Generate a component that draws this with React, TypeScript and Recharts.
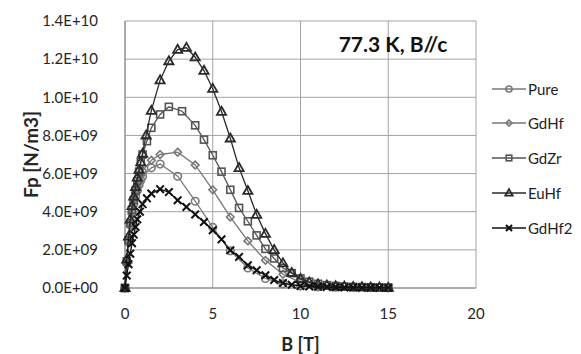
import React from 'react';
import { ScatterChart, Scatter, XAxis, YAxis, CartesianGrid } from 'recharts';

const FONT = 'Lato, "Open Sans", sans-serif';

// B [T] and Fp in units of 1E+09 N/m3
const pureB = [0, 0.1, 0.2, 0.3, 0.4, 0.5, 0.6, 0.7, 0.8, 0.9, 1.0, 1.5, 2, 3, 4, 5, 6, 7, 8, 9, 10, 11, 12, 13, 14, 15];
const pureFp = [0, 1.3, 2.4, 3.3, 3.9, 4.4, 4.8, 5.1, 5.4, 5.65, 5.85, 6.3, 6.5, 5.86, 4.55, 3.18, 1.95, 1.05, 0.5, 0.22, 0.1, 0.06, 0.04, 0.03, 0.02, 0.01];

const gdhfB = [0, 0.1, 0.2, 0.3, 0.4, 0.5, 0.6, 0.7, 0.8, 0.9, 1.0, 1.5, 2, 3, 4, 5, 6, 7, 8, 9, 10, 11, 12, 13, 14, 15];
const gdhfFp = [0, 1.4, 2.5, 3.4, 4.0, 4.6, 5.0, 5.3, 5.6, 5.9, 6.15, 6.7, 7.0, 7.12, 6.45, 5.15, 3.72, 2.47, 1.45, 0.72, 0.3, 0.13, 0.07, 0.04, 0.03, 0.02];

const gdzrB = [0, 0.1, 0.2, 0.3, 0.4, 0.5, 0.6, 0.7, 0.8, 0.9, 1.0, 1.25, 1.5, 2, 2.5, 3.25, 4, 4.5, 5, 5.5, 6, 6.5, 7, 7.5, 8, 8.5, 9, 9.5, 10, 10.5, 11, 11.5, 12, 12.5, 13, 13.5, 14, 14.5, 15];
const gdzrFp = [0, 1.4, 2.5, 3.4, 4.1, 4.6, 5.1, 5.6, 6.1, 6.6, 7.0, 7.7, 8.4, 9.1, 9.5, 9.27, 8.53, 7.78, 6.96, 6.1, 5.15, 4.2, 3.5, 2.76, 2.05, 1.55, 1.05, 0.78, 0.5, 0.33, 0.22, 0.15, 0.11, 0.08, 0.06, 0.05, 0.04, 0.03, 0.02];

const euhfB = [0, 0.1, 0.2, 0.3, 0.4, 0.5, 0.6, 0.7, 0.8, 0.9, 1.0, 1.2, 1.5, 2, 2.5, 3, 3.5, 4, 4.5, 5, 5.5, 6, 6.5, 7, 7.5, 8, 8.5, 9, 9.5, 10, 10.5, 11, 11.5, 12, 12.5, 13, 13.5, 14, 14.5, 15];
const euhfFp = [0, 1.5, 2.7, 3.6, 4.3, 4.8, 5.3, 5.8, 6.2, 6.6, 7.05, 8.0, 9.3, 10.9, 11.9, 12.5, 12.6, 12.1, 11.4, 10.45, 9.25, 7.85, 6.3, 5.1, 3.85, 2.85, 2.0, 1.3, 0.8, 0.48, 0.3, 0.2, 0.14, 0.1, 0.08, 0.06, 0.05, 0.04, 0.03, 0.02];

const gdhf2B = [0, 0.1, 0.2, 0.3, 0.4, 0.5, 0.6, 0.7, 0.85, 1.0, 1.25, 1.5, 2, 2.5, 3, 3.5, 4, 4.5, 5, 5.5, 6, 6.5, 7, 7.5, 8, 8.5, 9, 9.5, 10, 10.5, 11, 11.5, 12, 12.5, 13, 13.5, 14, 14.5, 15];
const gdhf2Fp = [0, 0.65, 1.25, 1.8, 2.35, 2.8, 3.2, 3.6, 4.0, 4.4, 4.7, 4.95, 5.18, 5.03, 4.6, 4.25, 3.86, 3.46, 3.03, 2.55, 1.98, 1.63, 1.19, 0.93, 0.67, 0.42, 0.26, 0.17, 0.11, 0.08, 0.06, 0.05, 0.04, 0.03, 0.03, 0.02, 0.02, 0.01, 0.01];

const xTicks = [0, 5, 10, 15, 20];
const yTicks = [0, 2, 4, 6, 8, 10, 12, 14];
const xMinorTicks = Array.from({ length: 21 }, (_, i) => i);
const yMinorTicks = Array.from({ length: 36 }, (_, i) => +(i * 0.4).toFixed(1));

const toRows = (bs: number[], fps: number[]) => bs.map((b, i) => ({ b, fp: fps[i] }));

type Kind = 'circle' | 'diamond' | 'square' | 'triangle' | 'x';

const series: { name: string; kind: Kind; color: string; data: { b: number; fp: number }[] }[] = [
  { name: 'Pure', kind: 'circle', color: '#7a7a7a', data: toRows(pureB, pureFp) },
  { name: 'GdHf', kind: 'diamond', color: '#777777', data: toRows(gdhfB, gdhfFp) },
  { name: 'GdZr', kind: 'square', color: '#555555', data: toRows(gdzrB, gdzrFp) },
  { name: 'EuHf', kind: 'triangle', color: '#2a2a2a', data: toRows(euhfB, euhfFp) },
  { name: 'GdHf2', kind: 'x', color: '#111111', data: toRows(gdhf2B, gdhf2Fp) },
];

const fmtSci = (v: number) => {
  const n = v * 1e9;
  if (n === 0) return '0.0E+00';
  const exp = Math.floor(Math.log10(n) + 1e-9);
  const mant = n / Math.pow(10, exp);
  return `${mant.toFixed(1)}E+${String(exp).padStart(2, '0')}`;
};

function Marker({ kind, color, cx, cy, s = 1 }: { kind: Kind; color: string; cx: number; cy: number; s?: number }) {
  const common = { fill: 'none', stroke: color, strokeWidth: 1.6 };
  switch (kind) {
    case 'circle':
      return <circle cx={cx} cy={cy} r={3.8 * s} {...common} />;
    case 'diamond': {
      const d = 3.8 * s;
      return <path d={`M${cx},${cy - d}L${cx + d},${cy}L${cx},${cy + d}L${cx - d},${cy}Z`} {...common} />;
    }
    case 'square': {
      const d = 3.5 * s;
      return <rect x={cx - d} y={cy - d} width={2 * d} height={2 * d} {...common} />;
    }
    case 'triangle': {
      const w = 4.6 * s;
      return <path d={`M${cx},${cy - 4.8 * s}L${cx + w},${cy + 3.2 * s}L${cx - w},${cy + 3.2 * s}Z`} {...common} strokeWidth={1.8} />;
    }
    default: {
      const d = 3.8 * s;
      return (
        <path d={`M${cx - d},${cy - d}L${cx + d},${cy + d}M${cx - d},${cy + d}L${cx + d},${cy - d}`} {...common} strokeWidth={2} />
      );
    }
  }
}

const shapeFor = (kind: Kind, color: string) => (props: any) => {
  const { cx, cy } = props;
  if (cx == null || cy == null) return <g />;
  return <Marker kind={kind} color={color} cx={cx} cy={cy} />;
};

const legendTop = [89, 123, 158, 193, 228];

export default function App() {
  return (
    <div style={{ position: 'absolute', left: 0, top: 0, width: 581, height: 354, background: '#fff', fontFamily: FONT }}>
      <ScatterChart width={581} height={354} margin={{ top: 21, right: 105, bottom: 0, left: 0 }}>
        <CartesianGrid stroke="#a3a3a3" strokeWidth={1} />
        <XAxis
          xAxisId="minor"
          dataKey="b"
          type="number"
          domain={[0, 20]}
          ticks={xMinorTicks}
          interval={0}
          mirror
          tick={false}
          axisLine={false}
          tickLine={{ stroke: '#868686' }}
          tickSize={4}
        />
        <YAxis
          yAxisId="minor"
          dataKey="fp"
          type="number"
          domain={[0, 14]}
          ticks={yMinorTicks}
          interval={0}
          mirror
          tick={false}
          axisLine={false}
          tickLine={{ stroke: '#868686' }}
          tickSize={4}
        />
        <XAxis
          dataKey="b"
          type="number"
          domain={[0, 20]}
          ticks={xTicks}
          interval={0}
          height={66}
          axisLine={{ stroke: '#868686' }}
          tickLine={false}
          tickSize={0}
          tickMargin={20}
          tick={{ fill: '#262626', fontSize: 15, fontFamily: FONT }}
          label={(p: any) => {
            const vb = p.viewBox;
            return (
              <text x={vb.x + vb.width / 2} y={351} textAnchor="middle" fontSize={18} fontWeight={700} fill="#262626" fontFamily={FONT}>
                B [T]
              </text>
            );
          }}
        />
        <YAxis
          dataKey="fp"
          type="number"
          domain={[0, 14]}
          ticks={yTicks}
          interval={0}
          width={125}
          axisLine={{ stroke: '#868686' }}
          tickLine={false}
          tickSize={0}
          tickMargin={27}
          tickFormatter={fmtSci}
          tick={{ fill: '#262626', fontSize: 15, fontFamily: FONT }}
          label={(p: any) => {
            const vb = p.viewBox;
            const cy = vb.y + vb.height / 2;
            return (
              <text
                x={30}
                y={cy}
                transform={`rotate(-90 30 ${cy})`}
                textAnchor="middle"
                dominantBaseline="central"
                fontSize={19}
                fontWeight={700}
                fill="#262626"
                fontFamily={FONT}
              >
                Fp [N/m3]
              </text>
            );
          }}
        />
        {series.map((s) => (
          <Scatter
            key={s.name}
            name={s.name}
            data={s.data}
            line={{ stroke: s.color, strokeWidth: 1.3 }}
            lineType="joint"
            shape={shapeFor(s.kind, s.color)}
            isAnimationActive={false}
          />
        ))}
      </ScatterChart>

      <div
        style={{
          position: 'absolute',
          left: 393,
          top: 43,
          transform: 'translate(-50%, -50%)',
          fontSize: 21,
          fontWeight: 700,
          color: '#111',
          whiteSpace: 'nowrap',
          lineHeight: 1,
        }}
      >
        77.3 K, B//c
      </div>

      {series.map((s, i) => (
        <div
          key={s.name}
          style={{ position: 'absolute', left: 492, top: legendTop[i] - 9, height: 18, display: 'flex', alignItems: 'center' }}
        >
          <svg width={34} height={14} style={{ display: 'block' }}>
            <line x1={0} y1={7} x2={34} y2={7} stroke={s.color} strokeWidth={1.3} />
            <Marker kind={s.kind} color={s.color} cx={17} cy={7} s={0.8} />
          </svg>
          <span style={{ marginLeft: 2, fontSize: 15, color: '#222', lineHeight: '18px' }}>{s.name}</span>
        </div>
      ))}
    </div>
  );
}
